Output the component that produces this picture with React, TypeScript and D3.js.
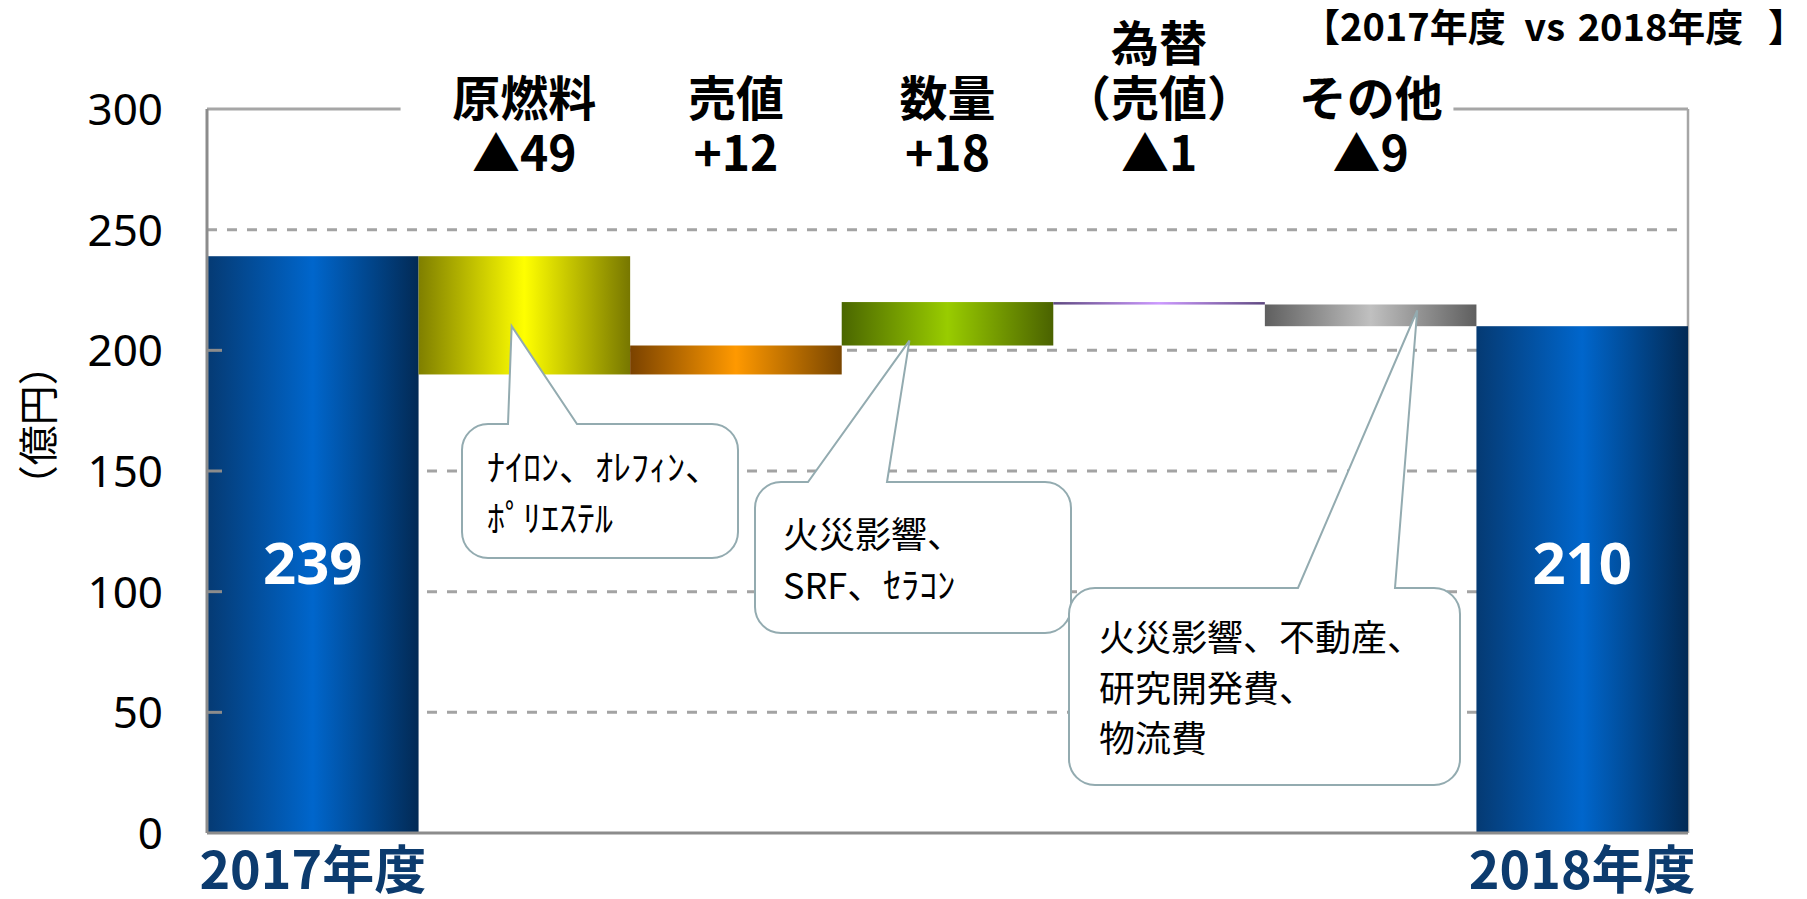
import { useEffect, useRef } from "react"
import * as d3 from "d3"

// ---- data ----
const categories = ["2017年度", "原燃料", "売値", "数量", "為替（売値）", "その他", "2018年度"]
const startValue = 239
const endValue = 210
const changes = [-49, 12, 18, -1, -9]
const headLabels = [["原燃料"], ["売値"], ["数量"], ["為替", "（売値）"], ["その他"]]
const yTicks = [0, 50, 100, 150, 200, 250, 300]
const yLabel = "（億円）"
const subtitleParts = ["【2017年度", " vs", " 2018年度", " 】"]
const calloutTexts = [
    ["ﾅｲﾛﾝ、ｵﾚﾌｨﾝ、", "ﾎﾟﾘｴｽﾃﾙ"],
    ["火災影響、", "SRF、ｾﾗｺﾝ"],
    ["火災影響、不動産、", "研究開発費、", "物流費"],
]
const calloutCats = ["原燃料", "数量", "その他"]
const calloutTipValues = [210, 204, 216.5]

// ---- styles ----
const barGradients = [
    ["#053a73", "#0066cc", "#022a55"],
    ["#7f7f00", "#ffff00", "#777700"],
    ["#7a4200", "#ff9900", "#7a4600"],
    ["#4a6600", "#99cc00", "#4a6200"],
    ["#5e4880", "#cc99ff", "#5e4880"],
    ["#5f5f5f", "#c0c0c0", "#5f5f5f"],
    ["#053a73", "#0066cc", "#022a55"],
]
// box layout for callouts: [x, y, w, h, baseLeft, baseRight, tipFrac, textX, firstBaseline]
const calloutBoxes = [
    [462, 424, 276, 134, 508, 577, 0.44, 487, 481],
    [755, 482, 316, 151, 808, 887, 0.32, 783, 548],
    [1069, 588, 391, 197, 1298, 1395, 0.72, 1099, 651],
]
const subtitleDx = [0, 10, 4, 16]

const W = 1807, H = 899
const margin = { top: 109, right: 119, bottom: 66, left: 207 }
const jp = "'Noto Sans CJK JP', sans-serif"

function calloutPath(x, y, w, h, r, b1, b2, tx, ty) {
    return `M${x + r},${y} L${b1},${y} L${tx},${ty} L${b2},${y} L${x + w - r},${y} ` +
        `A${r},${r} 0 0 1 ${x + w},${y + r} L${x + w},${y + h - r} ` +
        `A${r},${r} 0 0 1 ${x + w - r},${y + h} L${x + r},${y + h} ` +
        `A${r},${r} 0 0 1 ${x},${y + h - r} L${x},${y + r} ` +
        `A${r},${r} 0 0 1 ${x + r},${y} Z`
}

export default function App() {
    const ref = useRef<SVGSVGElement>(null)

    useEffect(() => {
        const svg = d3.select(ref.current)
        svg.selectAll("*").remove()

        const x = d3.scaleBand()
            .domain(categories)
            .range([margin.left, W - margin.right])
            .padding(0)

        const y = d3.scaleLinear()
            .domain([0, 300])
            .range([H - margin.bottom, margin.top])

        // waterfall segments
        let running = startValue
        const bars = [{ cat: categories[0], lo: 0, hi: startValue, delta: startValue }]
        changes.forEach((c, i) => {
            const next = running + c
            bars.push({ cat: categories[i + 1], lo: Math.min(running, next), hi: Math.max(running, next), delta: c })
            running = next
        })
        bars.push({ cat: categories[6], lo: 0, hi: endValue, delta: endValue })

        const defs = svg.append("defs")
        barGradients.forEach((g, i) => {
            const lg = defs.append("linearGradient")
                .attr("id", `grad${i}`)
                .attr("x1", 0).attr("x2", 1).attr("y1", 0).attr("y2", 0)
            lg.append("stop").attr("offset", "0%").attr("stop-color", g[0])
            lg.append("stop").attr("offset", "50%").attr("stop-color", g[1])
            lg.append("stop").attr("offset", "100%").attr("stop-color", g[2])
        })

        const x0 = x.range()[0], x1 = x.range()[1]

        // dashed grid
        svg.append("g")
            .selectAll("line")
            .data(yTicks.filter((t) => t > 0 && t < 300))
            .join("line")
            .attr("x1", x0).attr("x2", x1)
            .attr("y1", (d) => y(d)).attr("y2", (d) => y(d))
            .attr("stroke", "#a3a3a3")
            .attr("stroke-width", 3)
            .attr("stroke-dasharray", "10,10")

        // top frame line and right frame line
        svg.append("line")
            .attr("x1", x0).attr("x2", x1)
            .attr("y1", y(300)).attr("y2", y(300))
            .attr("stroke", "#a6a6a6").attr("stroke-width", 3)
        svg.append("line")
            .attr("x1", x1).attr("x2", x1)
            .attr("y1", y(300)).attr("y2", y(0))
            .attr("stroke", "#a6a6a6").attr("stroke-width", 2.5)

        // bars
        svg.append("g")
            .selectAll("rect")
            .data(bars)
            .join("rect")
            .attr("x", (d) => x(d.cat))
            .attr("width", x.bandwidth())
            .attr("y", (d) => y(d.hi))
            .attr("height", (d) => Math.max(2.5, y(d.lo) - y(d.hi)))
            .attr("fill", (d, i) => `url(#grad${i})`)

        // axes
        svg.append("line")
            .attr("x1", x0).attr("x2", x1)
            .attr("y1", y(0)).attr("y2", y(0))
            .attr("stroke", "#8c8c8c").attr("stroke-width", 3)
        svg.append("line")
            .attr("x1", x0).attr("x2", x0)
            .attr("y1", y(300)).attr("y2", y(0))
            .attr("stroke", "#8c8c8c").attr("stroke-width", 3)
        svg.append("g")
            .selectAll("line")
            .data(yTicks.filter((t) => t > 0 && t < 250))
            .join("line")
            .attr("x1", x0).attr("x2", x0 + 15)
            .attr("y1", (d) => y(d)).attr("y2", (d) => y(d))
            .attr("stroke", "#8c8c8c").attr("stroke-width", 3)

        svg.append("g")
            .selectAll("text")
            .data(yTicks)
            .join("text")
            .attr("x", x0 - 44)
            .attr("y", (d) => y(d))
            .attr("dy", "0.36em")
            .attr("text-anchor", "end")
            .style("font-family", "'Noto Sans', sans-serif")
            .style("font-size", "44px")
            .attr("fill", "#000")
            .text((d) => d)

        svg.append("text")
            .attr("transform", `translate(39, ${y(169)}) rotate(-90)`)
            .attr("text-anchor", "middle")
            .attr("dy", "0.35em")
            .style("font-family", jp)
            .style("font-size", "40px")
            .text(yLabel)

        // white gap behind head labels
        svg.append("rect")
            .attr("x", x(categories[1]) - 18)
            .attr("width", x(categories[5]) + x.bandwidth() - 23 - (x(categories[1]) - 18))
            .attr("y", y(300) - 8).attr("height", 16)
            .attr("fill", "#fff")

        // head labels
        const heads = svg.append("g")
        changes.forEach((c, i) => {
            const cx = x(categories[i + 1]) + x.bandwidth() / 2
            const lines = [...headLabels[i], c < 0 ? `▲${-c}` : `+${c}`]
            const t = heads.append("text")
                .attr("text-anchor", "middle")
                .style("font-family", jp)
                .style("font-size", "48px")
                .style("font-weight", 700)
                .attr("fill", "#000")
            lines.forEach((l, k) => {
                t.append("tspan")
                    .attr("x", cx)
                    .attr("y", 171 - (lines.length - 1 - k) * 55)
                    .text(l)
            })
        })

        const sub = svg.append("text")
            .attr("x", 1806).attr("y", 41)
            .attr("text-anchor", "end")
            .style("font-family", jp)
            .style("font-size", "38px")
            .style("font-weight", 700)
            .style("white-space", "pre")
            .attr("fill", "#000")
        subtitleParts.forEach((p, i) => {
            sub.append("tspan").attr("dx", subtitleDx[i]).text(p)
        })

        // value labels in end bars
        svg.append("g")
            .selectAll("text")
            .data([bars[0], bars[6]])
            .join("text")
            .attr("x", (d) => x(d.cat) + x.bandwidth() / 2)
            .attr("y", y(112))
            .attr("dy", "0.36em")
            .attr("text-anchor", "middle")
            .style("font-family", "'Noto Sans', sans-serif")
            .style("font-size", "58px")
            .style("font-weight", 700)
            .attr("fill", "#fff")
            .text((d) => d.hi)

        // category labels under end bars
        svg.append("g")
            .selectAll("text")
            .data([categories[0], categories[6]])
            .join("text")
            .attr("x", (d) => x(d) + x.bandwidth() / 2)
            .attr("y", 889)
            .attr("text-anchor", "middle")
            .style("font-family", jp)
            .style("font-size", "52px")
            .style("font-weight", 700)
            .attr("fill", "#0c3b6e")
            .text((d) => d)

        // callouts
        calloutBoxes.forEach((b, i) => {
            const [bx, by, bw, bh, b1, b2, frac, tx, tb] = b
            const tipX = x(calloutCats[i]) + x.bandwidth() * frac
            const tipY = y(calloutTipValues[i])
            svg.append("path")
                .attr("d", calloutPath(bx, by, bw, bh, 26, b1, b2, tipX, tipY))
                .attr("fill", "#fff")
                .attr("stroke", "#93abb0")
                .attr("stroke-width", 2)
            const t = svg.append("text")
                .style("font-family", jp)
                .style("font-size", "36px")
                .attr("fill", "#000")
            calloutTexts[i].forEach((l, k) => {
                t.append("tspan").attr("x", tx).attr("y", tb + k * 50.5).text(l)
            })
        })
    }, [])

    return (
        <svg ref={ref} width={W} height={H}
            style={{ position: "absolute", left: 0, top: 0, background: "#fff" }} />
    )
}
